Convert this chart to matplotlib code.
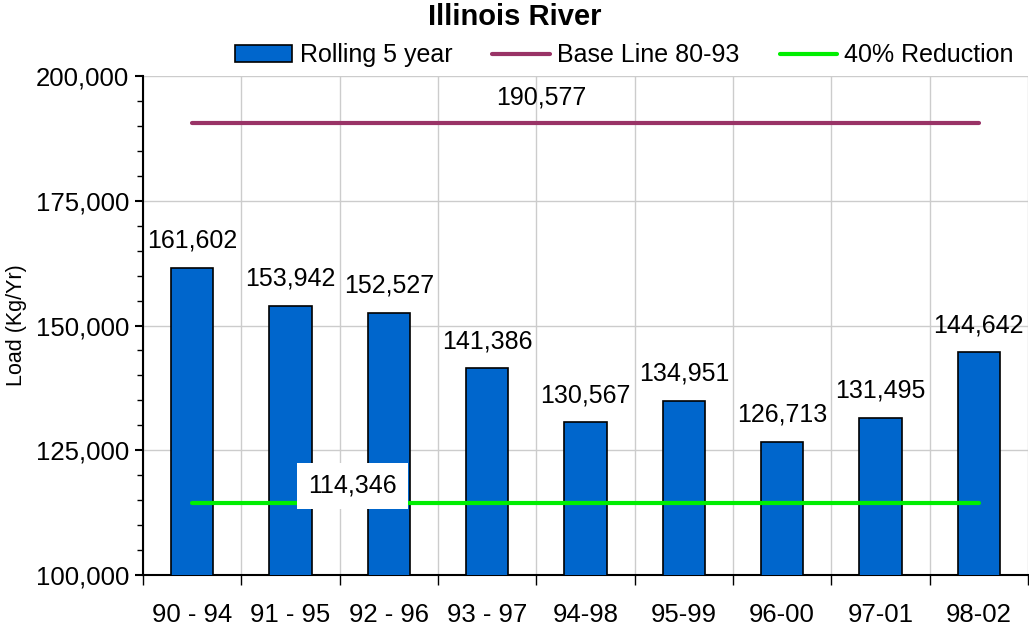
import numpy as np
import matplotlib.pyplot as plt
from matplotlib.ticker import FuncFormatter, MultipleLocator

# data
periods = ['90 - 94', '91 - 95', '92 - 96', '93 - 97', '94-98', '95-99', '96-00', '97-01', '98-02']
rolling = [161602, 153942, 152527, 141386, 130567, 134951, 126713, 131495, 144642]
baseline = 190577
reduction = 114346

plt.rcParams['font.family'] = ['Liberation Sans', 'DejaVu Sans']

fig = plt.figure(figsize=(10.29, 6.29), dpi=100)
ax = fig.add_axes([0.139, 0.086, 0.860, 0.793])

x = np.arange(len(periods))
bars = ax.bar(x, rolling, width=0.43, color='#0066CC', edgecolor='black', linewidth=1.2,
              label='Rolling 5 year', zorder=3)
l1, = ax.plot(x, [baseline] * len(x), color='#993366', lw=3, solid_capstyle='round',
              label='Base Line 80-93', zorder=4)
l2, = ax.plot(x, [reduction] * len(x), color='#00EE00', lw=3, solid_capstyle='round',
              label='40% Reduction', zorder=4)

for xi, v in zip(x, rolling):
    ax.text(xi, v + 3000, f'{v:,}', ha='center', va='bottom', fontsize=18, zorder=5)

ax.text(3.55, baseline + 2800, f'{baseline:,}', ha='center', va='bottom', fontsize=18)
ax.text(1.63, reduction + 3500, f'{reduction:,}', ha='center', va='center', fontsize=18,
        bbox=dict(facecolor='white', edgecolor='none', pad=8), zorder=5)

ax.set_xlim(-0.5, len(periods) - 0.5)
ax.set_ylim(100000, 200000)
ax.yaxis.set_major_locator(MultipleLocator(25000))
ax.yaxis.set_minor_locator(MultipleLocator(5000))
ax.yaxis.set_major_formatter(FuncFormatter(lambda v, p: f'{int(v):,}'))
ax.tick_params(axis='y', which='major', length=6, width=1.5, labelsize=18.5, pad=4)
ax.tick_params(axis='y', which='minor', length=4, width=1)

ax.set_xticks(x)
ax.set_xticklabels(periods)
ax.set_xticks(np.arange(-0.5, len(periods), 1), minor=True)
ax.tick_params(axis='x', which='major', length=0, labelsize=18.5, pad=20)
ax.tick_params(axis='x', which='minor', length=7, width=1)

ax.grid(axis='y', which='major', color='#CCCCCC', lw=1, zorder=0)
ax.grid(axis='x', which='minor', color='#CCCCCC', lw=1, zorder=0)

for s in ['top', 'right']:
    ax.spines[s].set_visible(False)
ax.spines['left'].set_linewidth(1.5)
ax.spines['bottom'].set_linewidth(1.5)

ax.set_ylabel('Load (Kg/Yr)', fontsize=15.5, labelpad=6)
fig.suptitle('Illinois River', fontsize=21, fontweight='bold', y=0.995)
fig.legend([bars, l1, l2], ['Rolling 5 year', 'Base Line 80-93', '40% Reduction'],
           loc='upper right', bbox_to_anchor=(1.0, 0.955), ncol=3, frameon=False,
           fontsize=18, handlelength=2.3, columnspacing=1.6, handletextpad=0.3,
           borderaxespad=0.2)

fig.savefig('out.png', dpi=100)
